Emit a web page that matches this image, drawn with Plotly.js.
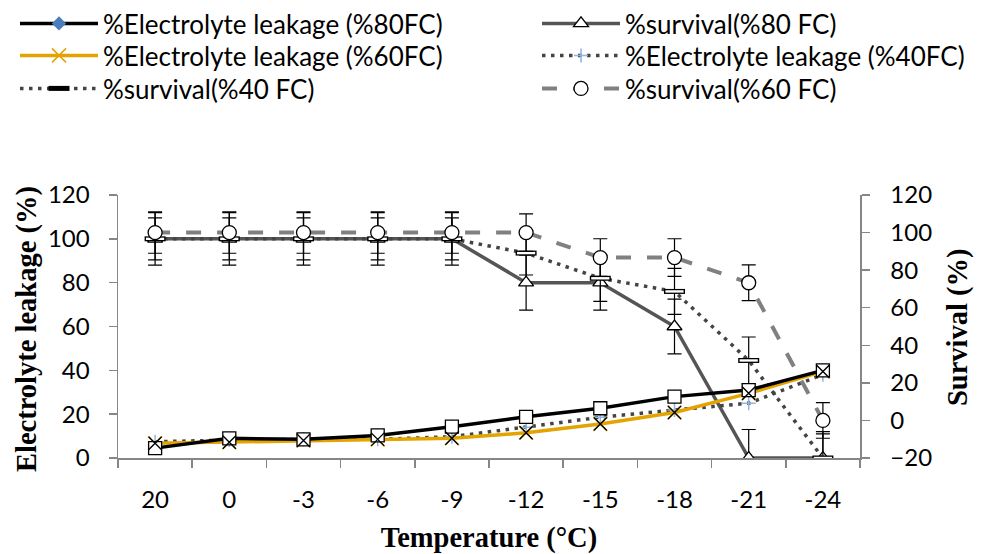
<!DOCTYPE html>
<html>
<head>
<meta charset="utf-8">
<script src="https://cdn.plot.ly/plotly-3.0.1.min.js"></script>
<style>html,body{margin:0;padding:0;background:#fff;}#chart{width:983px;height:554px;}</style>
</head>
<body>
<div id="chart"></div>
<script>
// ---- data ----
const temperatures = ['20', '0', '-3', '-6', '-9', '-12', '-15', '-18', '-21', '-24'];
const el80 = [4.5, 9, 8.5, 10.3, 14.3, 18.8, 22.7, 28, 31, 40];
const el60 = [6.7, 7.2, 8, 8.5, 9, 11.5, 15.5, 20.8, 29.5, 39.5];
const el40 = [7.4, 8.2, 8.5, 8.5, 9.7, 14, 18.6, 21.9, 25, 38];
const surv80 = [100, 100, 100, 100, 100, 80, 80, 60, 0, 0];
const surv80Err = [12, 12, 12, 12, 12, 12.5, 12.5, 12.5, 13, 12];
const surv40 = [100, 100, 100, 100, 100, 93.5, 82, 76, 44.5, 0];
const surv40Err = [9.6, 9.6, 9.6, 9.6, 9.6, 10, 10.5, 10.5, 10.7, 11];
const surv60 = [100, 100, 100, 100, 100, 100, 86.7, 86.7, 73.3, 0];
const surv60Err = [11, 11, 11, 11, 11, 10, 10, 10, 9.5, 9.5];
const leftTicks = [0, 20, 40, 60, 80, 100, 120];
const rightTicks = [-20, 0, 20, 40, 60, 80, 100, 120];

const names = {
  el80: '%Electrolyte leakage (%80FC)',
  surv80: '%survival(%80 FC)',
  el60: '%Electrolyte leakage (%60FC)',
  el40: '%Electrolyte leakage (%40FC)',
  surv40: '%survival(%40 FC)',
  surv60: '%survival(%60 FC)'
};
const xTitle = 'Temperature (°C)';
const yTitle = 'Electrolyte leakage (%)';
const y2Title = 'Survival (%)';

const gold = '#E3A300';
const errStyle = (arr) => ({type: 'data', array: arr, visible: true, color: '#000', thickness: 1.2, width: 7});

const traces = [
  { // survival 80
    x: temperatures, y: surv80, name: names.surv80, type: 'scatter', mode: 'lines+markers',
    line: {color: '#555555', width: 3.5},
    marker: {symbol: 'triangle-up', size: 13, color: '#fff', line: {color: '#000', width: 1.3}},
    error_y: errStyle(surv80Err), legend: 'legend2'
  },
  { // survival 40
    x: temperatures, y: surv40, name: names.surv40, type: 'scatter', mode: 'lines+markers',
    line: {color: '#444444', width: 3.5, dash: '3.5px,5.5px'},
    marker: {symbol: 'line-ew', size: 15, color: '#000', line: {color: '#000', width: 5}},
    error_y: errStyle(surv40Err), legend: 'legend5'
  },
  { // survival 40 marker fill
    x: temperatures, y: surv40, type: 'scatter', mode: 'markers', showlegend: false, hoverinfo: 'skip',
    marker: {symbol: 'line-ew', size: 13, color: '#fff', line: {color: '#fff', width: 2.4}}
  },
  { // EL 40
    x: temperatures, y: el40, name: names.el40, type: 'scatter', mode: 'lines+markers',
    line: {color: '#444444', width: 3.5, dash: '3.5px,5.5px'},
    marker: {symbol: 'cross-thin', size: 10, color: '#8DB4E2', line: {color: '#8DB4E2', width: 1.5}},
    legend: 'legend4'
  },
  { // EL 60
    x: temperatures, y: el60, name: names.el60, type: 'scatter', mode: 'lines+markers',
    line: {color: gold, width: 3.5},
    marker: {symbol: 'x-thin', size: 14, color: gold, line: {color: gold, width: 1.5}},
    legend: 'legend3'
  },
  { // EL 80
    x: temperatures, y: el80, name: names.el80, type: 'scatter', mode: 'lines+markers',
    line: {color: '#000', width: 3.5},
    marker: {symbol: 'diamond', size: 11, color: '#4A7EBB', line: {width: 0}},
    legend: 'legend'
  },
  { // white square markers seen on EL 80
    x: temperatures, y: el80, type: 'scatter', mode: 'markers', showlegend: false, hoverinfo: 'skip',
    marker: {symbol: 'square', size: 13, color: '#fff', line: {color: '#000', width: 1.3}}
  },
  { // black X markers seen on EL 60
    x: temperatures, y: el60, type: 'scatter', mode: 'markers', showlegend: false, hoverinfo: 'skip',
    marker: {symbol: 'x-thin', size: 13, color: '#000', line: {color: '#000', width: 1.4}}
  },
  { // survival 60 (right axis)
    x: temperatures, y: surv60, name: names.surv60, type: 'scatter', mode: 'lines+markers', yaxis: 'y2',
    line: {color: '#808080', width: 4, dash: '15px,16px'},
    marker: {symbol: 'circle', size: 14, color: '#fff', line: {color: '#000', width: 1.3}},
    error_y: errStyle(surv60Err), legend: 'legend6'
  }
];

const tickFont = {family: 'Lato, sans-serif', size: 24, color: '#000'};
const titleFont = {family: 'Liberation Serif, serif', size: 28.5, color: '#000', weight: 700};
const legendFont = {family: 'Lato, sans-serif', size: 26, color: '#000'};
const axisColor = '#868686';

function legendAt(xPix, topPix) {
  return {
    xref: 'container', yref: 'container', x: xPix / 983, y: 1 - topPix / 554,
    xanchor: 'left', yanchor: 'top', orientation: 'v', font: legendFont,
    itemwidth: 78, bgcolor: 'rgba(0,0,0,0)', borderwidth: 0
  };
}

const layout = {
  width: 983, height: 554,
  margin: {l: 118, r: 123, t: 195, b: 96, autoexpand: false},
  paper_bgcolor: '#fff', plot_bgcolor: '#fff',
  showlegend: true,
  xaxis: {
    type: 'category', range: [-0.5, 9.5], showgrid: false, zeroline: false,
    showline: true, linecolor: axisColor, linewidth: 1.5,
    ticks: 'outside', ticklen: 8, tickcolor: axisColor, tickwidth: 1.5, tickson: 'boundaries',
    tickfont: tickFont, ticklabelstandoff: 20, tickangle: 0,
    title: {text: xTitle, font: titleFont, standoff: 25}
  },
  yaxis: {
    range: [0, 120], tickvals: leftTicks, showgrid: false, zeroline: false,
    showline: true, linecolor: axisColor, linewidth: 1.5,
    ticks: 'outside', ticklen: 8, tickcolor: axisColor, tickwidth: 1.5,
    tickfont: tickFont, ticklabelstandoff: 14
  },
  yaxis2: {
    range: [-20, 120], tickvals: rightTicks, overlaying: 'y', side: 'right',
    showgrid: false, zeroline: false,
    showline: true, linecolor: axisColor, linewidth: 1.5,
    ticks: 'outside', ticklen: 8, tickcolor: axisColor, tickwidth: 1.5,
    tickfont: tickFont, ticklabelstandoff: 16
  },
  annotations: [
    {text: yTitle, xref: 'paper', yref: 'paper', x: (27 - 118) / 742, y: (458 - 329) / 263,
     xanchor: 'center', yanchor: 'middle', textangle: -90, showarrow: false, font: titleFont},
    {text: y2Title, xref: 'paper', yref: 'paper', x: (958 - 118) / 742, y: (458 - 327) / 263,
     xanchor: 'center', yanchor: 'middle', textangle: -90, showarrow: false, font: titleFont}
  ],
  legend: legendAt(15, -3),
  legend2: legendAt(537, -3),
  legend3: legendAt(15, 32),
  legend4: legendAt(537, 32),
  legend5: legendAt(15, 65),
  legend6: legendAt(537, 65)
};

Plotly.newPlot('chart', traces, layout, {displayModeBar: false, staticPlot: true});
</script>
</body>
</html>
